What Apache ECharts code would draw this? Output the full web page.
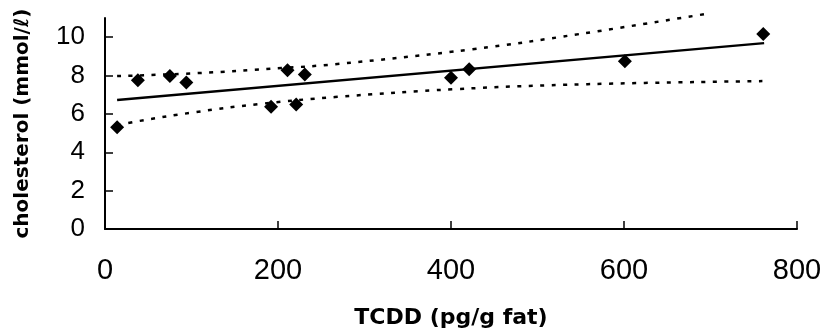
<!DOCTYPE html>
<html>
<head>
<meta charset="utf-8">
<script src="https://cdn.jsdelivr.net/npm/echarts@6/dist/echarts.min.js"></script>
<style>
  html, body { margin: 0; padding: 0; background: #fff; }
  #chart { width: 822px; height: 335px; }
</style>
</head>
<body>
<div id="chart"></div>
<script>
// measured points: TCDD (pg/g fat) vs cholesterol (mmol/l)
const tcdd = [14, 38, 75, 94, 192, 211, 221, 231, 400, 421, 601, 761];
const cholesterol = [5.3, 7.76, 7.97, 7.64, 6.37, 8.28, 6.49, 8.06, 7.88, 8.33, 8.75, 10.16];

// fitted regression line (end points)
const fitX = [14, 762];
const fitY = [6.72, 9.69];

// confidence band
const upperX = [14, 104, 204, 266, 425, 548, 693];
const upperY = [7.97, 8.12, 8.39, 8.59, 9.37, 10.16, 11.2];
const lowerX = [14, 38, 104, 177, 266, 404, 558, 760];
const lowerY = [5.4, 5.62, 6.09, 6.51, 6.88, 7.29, 7.55, 7.71];

const xTicks = [0, 200, 400, 600, 800];
const yTicks = [0, 2, 4, 6, 8, 10];

const zip = (xs, ys) => xs.map((x, i) => [x, ys[i]]);

const chart = echarts.init(document.getElementById("chart"));

const dotted = {
  type: "line",
  symbol: "none",
  smooth: 0.4,
  clip: false,
  lineStyle: { color: "#000", width: 2.5, type: [4, 7.5] },
  z: 2,
};

const option = {
  backgroundColor: "#fff",
  animation: false,
  grid: { left: 105, right: 25, top: 18, bottom: 106, containLabel: false, outerBoundsMode: "none" },
  xAxis: {
    type: "value",
    min: 0,
    max: 800,
    interval: 200,
    name: "TCDD (pg/g fat)",
    nameLocation: "middle",
    nameGap: 78,
    nameTextStyle: {
      fontFamily: "DejaVu Sans",
      fontWeight: "bold",
      fontSize: 22,
      color: "#000",
    },
    axisLine: { lineStyle: { color: "#000", width: 2 } },
    axisTick: { inside: true, length: 8, lineStyle: { color: "#000", width: 1.5 } },
    axisLabel: {
      customValues: xTicks,
      margin: 27,
      fontFamily: "Liberation Sans",
      fontSize: 29,
      color: "#000",
    },
    splitLine: { show: false },
  },
  yAxis: {
    type: "value",
    min: 0,
    max: 11,
    name: "cholesterol (mmol/\u2113)",
    nameLocation: "middle",
    nameGap: 72,
    nameTextStyle: {
      fontFamily: "DejaVu Sans",
      fontWeight: "bold",
      fontSize: 20,
      color: "#000",
    },
    axisLine: { show: true, lineStyle: { color: "#000", width: 2 } },
    axisTick: {
      show: true,
      inside: true,
      length: 8,
      customValues: yTicks,
      lineStyle: { color: "#000", width: 1.5 },
    },
    axisLabel: {
      customValues: yTicks,
      margin: 20,
      fontFamily: "Liberation Sans",
      fontSize: 26,
      color: "#000",
    },
    splitLine: { show: false },
  },
  series: [
    Object.assign({ name: "upper", data: zip(upperX, upperY) }, dotted),
    Object.assign({ name: "lower", data: zip(lowerX, lowerY) }, dotted),
    {
      name: "fit",
      type: "line",
      symbol: "none",
      data: zip(fitX, fitY),
      lineStyle: { color: "#000", width: 2.5 },
      z: 3,
    },
    {
      name: "measured",
      type: "scatter",
      symbol: "diamond",
      symbolSize: 14,
      data: zip(tcdd, cholesterol),
      itemStyle: { color: "#000", opacity: 1 },
      z: 4,
    },
  ],
};

chart.setOption(option);
</script>
</body>
</html>
